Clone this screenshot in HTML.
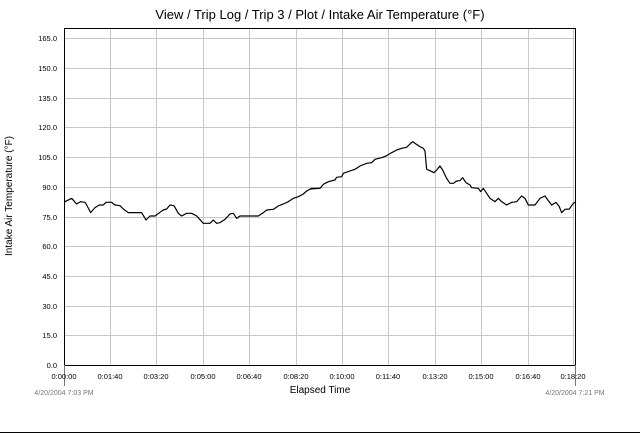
<!DOCTYPE html>
<html><head><style>body{margin:0;background:#fff}svg{display:block}</style></head><body>
<svg width="640" height="442" viewBox="0 0 640 442" font-family="Liberation Sans, Arial, sans-serif">
<rect width="640" height="442" fill="#fff"/>
<text x="320" y="19" font-size="13" text-anchor="middle">View / Trip Log / Trip 3 / Plot / Intake Air Temperature (°F)</text>
<g stroke="#c8c8c8" stroke-width="1">
<line x1="64" x2="575" y1="38.5" y2="38.5"/><line x1="64" x2="575" y1="68.5" y2="68.5"/><line x1="64" x2="575" y1="98.5" y2="98.5"/><line x1="64" x2="575" y1="127.5" y2="127.5"/><line x1="64" x2="575" y1="157.5" y2="157.5"/><line x1="64" x2="575" y1="187.5" y2="187.5"/><line x1="64" x2="575" y1="217.5" y2="217.5"/><line x1="64" x2="575" y1="246.5" y2="246.5"/><line x1="64" x2="575" y1="276.5" y2="276.5"/><line x1="64" x2="575" y1="306.5" y2="306.5"/><line x1="64" x2="575" y1="335.5" y2="335.5"/>
<line y1="28" y2="365" x1="110.5" x2="110.5"/><line y1="28" y2="365" x1="156.5" x2="156.5"/><line y1="28" y2="365" x1="203.5" x2="203.5"/><line y1="28" y2="365" x1="249.5" x2="249.5"/><line y1="28" y2="365" x1="296.5" x2="296.5"/><line y1="28" y2="365" x1="342.5" x2="342.5"/><line y1="28" y2="365" x1="388.5" x2="388.5"/><line y1="28" y2="365" x1="435.5" x2="435.5"/><line y1="28" y2="365" x1="481.5" x2="481.5"/><line y1="28" y2="365" x1="528.5" x2="528.5"/><line y1="28" y2="365" x1="573.5" x2="573.5"/>
</g>
<rect x="64.5" y="28.5" width="511" height="337" fill="none" stroke="#000" stroke-width="1"/>
<line x1="64.5" x2="64.5" y1="365" y2="386" stroke="#777"/>
<line x1="575.5" x2="575.5" y1="365" y2="386" stroke="#777"/>
<g fill="none" stroke="#000" stroke-width="3.6" stroke-linejoin="round">
<polyline transform="translate(60,130) scale(0.3333)" points="12,215 15,215 35,205 50,222 62,215 75,217 80,225 92,248 105,233 118,225 130,225 138,217 155,217 165,225 180,227 190,237 205,248 245,248 258,270 270,258 285,258 300,247 310,240 320,237 330,225 342,227 355,250 365,258 380,250 395,250 410,258 430,280 450,280 460,270 470,280 480,278 495,268 510,252 520,250 530,265 540,258 595,258 610,248 620,240 640,238 655,228 670,222 685,215 700,205 715,200 730,192 740,183 755,175 780,175"/>
<polyline transform="translate(310,130) scale(0.3333)" points="0,177 30,175 40,163 55,155 75,150 80,142 95,140 100,130 120,123 135,118 150,108 170,100 185,98 195,88 215,83 230,77 245,68 260,60 275,55 290,52 300,42 308,35 318,42 330,50 340,55 345,63 350,118 360,122 372,128 380,120 390,108 398,120 410,145 420,160 430,160 440,153 450,152 458,143 468,158 480,165 485,173 505,175 512,185 520,175 530,190 540,205 555,215 565,205 575,215 590,225 605,217 620,215 635,198 645,205 655,225 675,225 690,205 705,198 715,212 725,225 738,217 748,230 755,248 765,238 778,237 790,220 798,215"/>
</g>
<g font-size="7.5" text-anchor="end" fill="#000">
<text x="57" y="41">165.0</text><text x="57" y="71">150.0</text><text x="57" y="101">135.0</text><text x="57" y="130">120.0</text><text x="57" y="160">105.0</text><text x="57" y="190">90.0</text><text x="57" y="220">75.0</text><text x="57" y="249">60.0</text><text x="57" y="279">45.0</text><text x="57" y="309">30.0</text><text x="57" y="338">15.0</text><text x="57" y="368">0.0</text>
</g>
<g font-size="7.5" text-anchor="middle">
<text x="64" y="379">0:00:00</text><text x="110" y="379">0:01:40</text><text x="156" y="379">0:03:20</text><text x="203" y="379">0:05:00</text><text x="249" y="379">0:06:40</text><text x="296" y="379">0:08:20</text><text x="342" y="379">0:10:00</text><text x="388" y="379">0:11:40</text><text x="435" y="379">0:13:20</text><text x="481" y="379">0:15:00</text><text x="528" y="379">0:16:40</text><text x="573" y="379">0:18:20</text>
</g>
<text x="320" y="393" font-size="10" text-anchor="middle">Elapsed Time</text>
<g font-size="7" fill="#777" text-anchor="middle"><text x="64" y="395">4/20/2004 7:03 PM</text><text x="575" y="395">4/20/2004 7:21 PM</text></g>
<text transform="translate(12,196) rotate(-90)" font-size="10" text-anchor="middle">Intake Air Temperature (°F)</text>
<line x1="0" x2="640" y1="432.5" y2="432.5" stroke="#000"/>
</svg>
</body></html>
